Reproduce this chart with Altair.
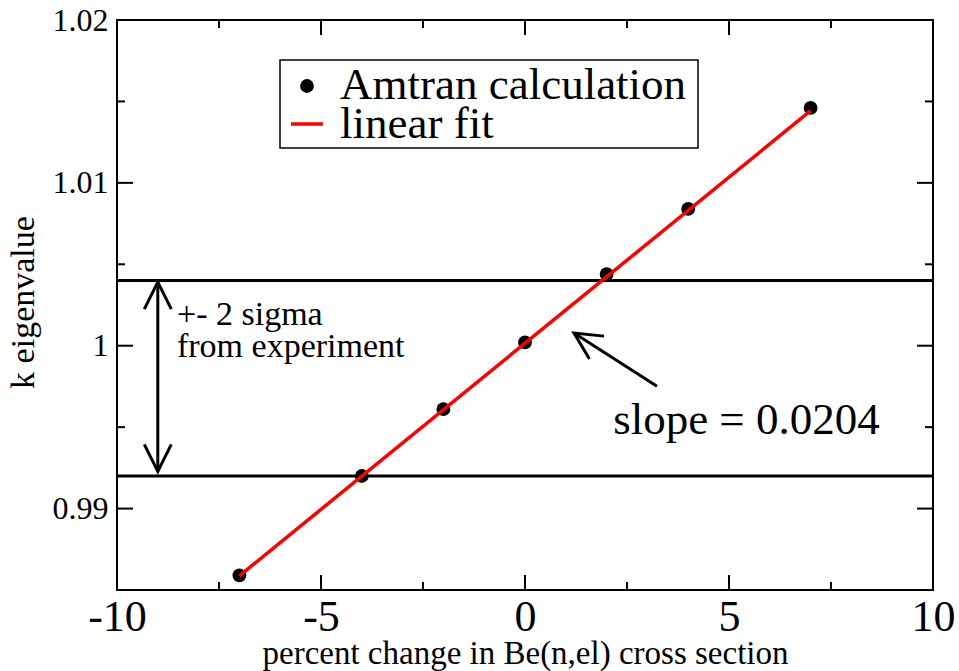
import altair as alt
import pandas as pd

# ---- data ----
pct_change = [-7, -4, -2, 0, 2, 4, 7]
k_eig = [0.9859, 0.9920, 0.9961, 1.0002, 1.0044, 1.0084, 1.0146]
fit_x = [-7, 7]
fit_k = [0.98587, 1.01443]
sigma_k = [0.992, 1.004]

x_major = [-10, -5, 0, 5, 10]
x_minor = [-7.5, -2.5, 2.5, 7.5]
y_major = [0.99, 1.00, 1.01, 1.02]
y_minor = [0.985, 0.995, 1.005, 1.015]

sigma_text = ["+- 2 sigma", "from experiment"]
sigma_text_x = [-8.53, -8.53]
sigma_text_y = [1.00127, 0.99930]

slope_label = ["slope = 0.0204"]
slope_label_x = [2.16]
slope_label_y = [0.99456]

# arrows: shafts (x, y) -> (x2, y2), heads at tips
shaft_x = [-9, 3.235]
shaft_y = [0.99228, 0.99751]
shaft_x2 = [-9, 1.20]
shaft_y2 = [1.0039, 1.00078]
head_x = [-9, -9, 1.20]
head_y = [1.0039, 0.99228, 1.00078]
head_angle = [0, 180, 302.5]

legend_labels = ["Amtran calculation", "linear fit"]

W, H = 816, 570
FONT = "Liberation Serif"

xs = alt.Scale(domain=[-10, 10], nice=False, zero=False)
ys = alt.Scale(domain=[0.985, 1.02], nice=False, zero=False)

x_axis = alt.Axis(
    values=x_major, labelExpr="datum.value + ''", ticks=False, domain=False, grid=False,
    labelFont=FONT, labelFontSize=44, labelColor="black", labelPadding=5,
    labelFlush=False, labelOverlap=False,
    title="percent change in Be(n,el) cross section", titleFont=FONT, titleFontSize=33,
    titleFontWeight="normal", titleColor="black", titleY=73, titleBaseline="alphabetic",
)
y_axis = alt.Axis(
    values=y_major, format="~g", ticks=False, domain=False, grid=False,
    labelFont=FONT, labelFontSize=32, labelColor="black", labelPadding=9,
    labelFlush=False, labelOverlap=False,
    title="k eigenvalue", titleFont=FONT, titleFontSize=34, titleFontWeight="normal",
    titleColor="black", titleX=-84, titleY=282, titleBaseline="alphabetic", titleAngle=-90,
    titleAlign="center",
)


def X(field):
    return alt.X(field, scale=xs, axis=x_axis)


def Y(field):
    return alt.Y(field, scale=ys, axis=y_axis)


pts_df = pd.DataFrame({"x": pct_change, "k": k_eig})
fit_df = pd.DataFrame({"x": fit_x, "k": fit_k})
sig_df = pd.DataFrame({"k": sigma_k})

points = alt.Chart(pts_df).mark_circle(size=190, color="black", opacity=1).encode(
    x=X("x:Q"), y=Y("k:Q"),
)

fit_line = alt.Chart(fit_df).mark_line(color="red", strokeWidth=3.5).encode(
    x=X("x:Q"), y=Y("k:Q"),
)

sigma_rules = alt.Chart(sig_df).mark_rule(color="black", strokeWidth=3).encode(
    y=Y("k:Q"),
)


# ticks (inside, on all four sides)
def xticks(vals, y0, y1):
    return alt.Chart(pd.DataFrame({"x": vals})).mark_rule(color="black", strokeWidth=2).encode(
        x=X("x:Q"), y=alt.value(y0), y2=alt.value(y1))


def yticks(vals, x0, x1):
    return alt.Chart(pd.DataFrame({"k": vals})).mark_rule(color="black", strokeWidth=2).encode(
        y=Y("k:Q"), x=alt.value(x0), x2=alt.value(x1))


ticks = [
    xticks(x_major, H - 15, H), xticks(x_minor, H - 8, H),
    xticks(x_major, 0, 15), xticks(x_minor, 0, 8),
    yticks(y_major, 0, 16), yticks(y_minor, 0, 8),
    yticks(y_major, W - 16, W), yticks(y_minor, W - 8, W),
]

shaft_df = pd.DataFrame({"x": shaft_x, "k": shaft_y, "x2": shaft_x2, "k2": shaft_y2})
shafts = alt.Chart(shaft_df).mark_rule(color="black", strokeWidth=3).encode(
    x=X("x:Q"), y=Y("k:Q"), x2="x2:Q", y2="k2:Q",
)
head_df = pd.DataFrame({"x": head_x, "k": head_y, "a": head_angle})
heads = alt.Chart(head_df).mark_point(
    shape="M-0.5,1L0,0L0.5,1", filled=False, color="black", strokeWidth=3,
    size=2916, opacity=1,
).encode(
    x=X("x:Q"), y=Y("k:Q"), angle=alt.Angle("a:Q", scale=None),
)

sig_txt_df = pd.DataFrame({"t": sigma_text, "x": sigma_text_x, "k": sigma_text_y})
sig_txt = alt.Chart(sig_txt_df).mark_text(
    font=FONT, fontSize=34, align="left", baseline="alphabetic", color="black"
).encode(x=X("x:Q"), y=Y("k:Q"), text="t:N")

slope_df = pd.DataFrame({"t": slope_label, "x": slope_label_x, "k": slope_label_y})
slope_txt = alt.Chart(slope_df).mark_text(
    font=FONT, fontSize=45, align="left", baseline="alphabetic", color="black"
).encode(x=X("x:Q"), y=Y("k:Q"), text="t:N")

# manual legend
one = pd.DataFrame({"a": [0]})
leg_box = alt.Chart(one).mark_rect(fill="white", stroke="black", strokeWidth=1.5).encode(
    x=alt.value(163), x2=alt.value(581), y=alt.value(40), y2=alt.value(128))
leg_dot = alt.Chart(one).mark_circle(size=190, color="black", opacity=1).encode(
    x=alt.value(190), y=alt.value(66))
leg_line = alt.Chart(one).mark_rule(color="red", strokeWidth=3.5).encode(
    x=alt.value(174), x2=alt.value(206), y=alt.value(104))
leg_t1 = alt.Chart(pd.DataFrame({"t": [legend_labels[0]]})).mark_text(
    font=FONT, fontSize=45, align="left", baseline="alphabetic", color="black"
).encode(x=alt.value(223), y=alt.value(79), text="t:N")
leg_t2 = alt.Chart(pd.DataFrame({"t": [legend_labels[1]]})).mark_text(
    font=FONT, fontSize=45, align="left", baseline="alphabetic", color="black"
).encode(x=alt.value(223), y=alt.value(118), text="t:N")

chart = alt.layer(
    points, sigma_rules, fit_line, *ticks, shafts, heads, sig_txt, slope_txt,
    leg_box, leg_dot, leg_line, leg_t1, leg_t2,
).properties(
    width=W, height=H,
    padding={"left": 117, "top": 20, "right": 26, "bottom": 81},
    autosize=alt.AutoSizeParams(type="none"),
    background="white",
).configure_view(stroke="black", strokeWidth=2)

chart.save("out.html", embed_options={"renderer": "svg", "actions": False})
